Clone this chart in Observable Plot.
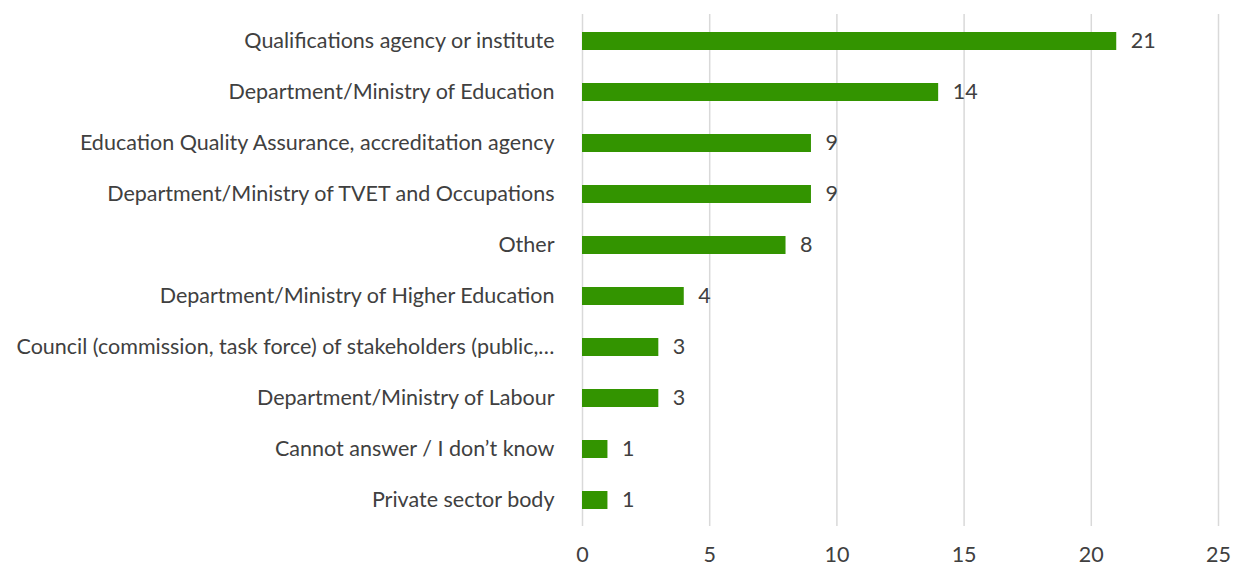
<!DOCTYPE html>
<html><head><meta charset="utf-8">
<script src="https://cdn.jsdelivr.net/npm/d3@7"></script>
<script src="https://cdn.jsdelivr.net/npm/@observablehq/plot@0.6"></script>
<style>
html,body{margin:0;padding:0;background:#fff;}
#chart svg{display:block;}
</style>
</head><body><div id="chart"></div>
<script>
const categories = [
  "Qualifications agency or institute",
  "Department/Ministry of Education",
  "Education Quality Assurance, accreditation agency",
  "Department/Ministry of TVET and Occupations",
  "Other",
  "Department/Ministry of Higher Education",
  "Council (commission, task force) of stakeholders (public,…",
  "Department/Ministry of Labour",
  "Cannot answer / I don’t know",
  "Private sector body"
];
const values = [21, 14, 9, 9, 8, 4, 3, 3, 1, 1];
const xTicks = [0, 5, 10, 15, 20, 25];

const data = categories.map((c, i) => ({category: c, value: values[i]}));
const textColor = "#404040";
const font = "Lato, 'Open Sans', sans-serif";

const plot = Plot.plot({
  width: 1233,
  height: 565,
  marginLeft: 582,
  marginRight: 15,
  marginTop: 14,
  marginBottom: 39,
  style: {fontFamily: font, fontSize: "21.5px", color: textColor, background: "#fff", overflow: "visible"},
  x: {domain: [0, 25], ticks: xTicks, label: null},
  y: {domain: categories, paddingInner: 0.65, paddingOuter: 0.325, label: null},
  marks: [
    Plot.ruleX(xTicks, {stroke: "#d9d9d9", strokeWidth: 1.5}),
    Plot.barX(data, {x: "value", y: "category", fill: "#339400"}),
    Plot.text(data, {x: "value", y: "category", text: d => String(d.value), textAnchor: "start", dx: 14, fill: textColor, fontSize: 21.5}),
    Plot.axisY({tickSize: 0, tickPadding: 28, fontSize: 21.5, fill: textColor, label: null}),
    Plot.axisX({ticks: xTicks, tickSize: 0, tickPadding: 20, fontSize: 21.5, fill: textColor, label: null})
  ]
});
document.getElementById("chart").appendChild(plot);
</script>
</body></html>
